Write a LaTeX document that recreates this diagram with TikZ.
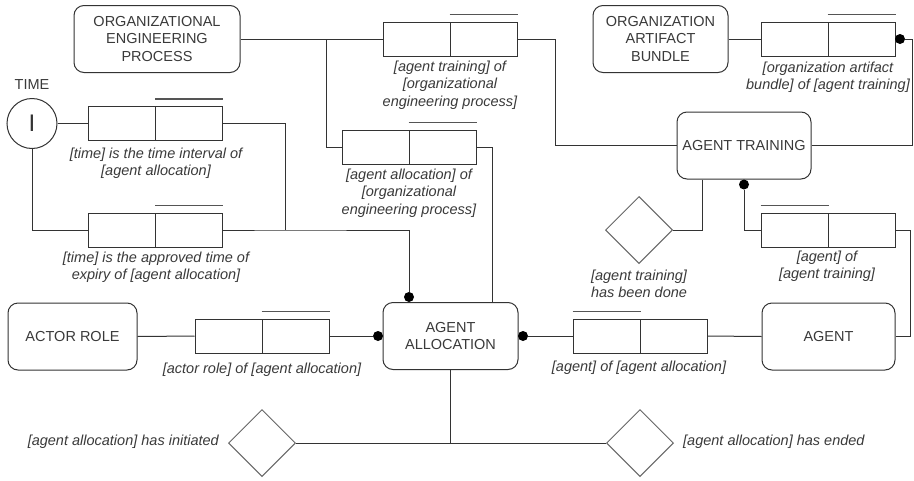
\documentclass[tikz,border=0pt]{standalone}
\usepackage{fontspec}
\setmainfont{Liberation Sans}
\usetikzlibrary{shapes.geometric}

\definecolor{linegray}{HTML}{333333}
\definecolor{textgray}{HTML}{3A3A3A}
\definecolor{bargray}{HTML}{555555}
\definecolor{diagray}{HTML}{666666}

\tikzstyle{entity}=[draw=linegray,line width=1pt,rounded corners=10pt,minimum height=67pt,align=center,text=textgray,font=\fontsize{14.5}{17.5}\selectfont,inner sep=0pt]
\tikzstyle{role}=[draw=linegray,line width=1pt,minimum width=67pt,minimum height=34pt,inner sep=0pt]
\tikzstyle{uniq}=[draw=bargray,line width=1.2pt]
\tikzstyle{reading}=[align=center,text=textgray,font=\fontsize{14.5}{17.5}\selectfont\itshape,inner sep=0pt]
\tikzstyle{event}=[diamond,draw=diagray,line width=1pt,minimum width=67pt,minimum height=67pt,inner sep=0pt]
\tikzstyle{dots}=[circle,fill=black,inner sep=0pt,minimum size=10pt]
\tikzstyle{conn}=[draw=linegray,line width=1pt]

\begin{document}
\begin{tikzpicture}[x=1pt,y=-1pt]

   \fill[white] (0,0) rectangle (914,480);
   \useasboundingbox (0,0) rectangle (914,480);

   \node[entity,minimum width=166pt] (oep) at (157,39) {ORGANIZATIONAL\\ENGINEERING\\PROCESS};
   \node[entity,minimum width=135pt] (oab) at (660.5,39) {ORGANIZATION\\ARTIFACT\\BUNDLE};
   \node[entity,minimum width=134pt] (at) at (744,145.5) {AGENT TRAINING};
   \node[entity,minimum width=135pt] (aa) at (450.5,336) {AGENT\\ALLOCATION};
   \node[entity,minimum width=133pt] (ag) at (828.5,336.5) {AGENT};
   \node[entity,minimum width=129pt] (ar) at (72.5,336.5) {ACTOR ROLE};

   \node[draw=linegray,line width=1pt,circle,minimum size=50pt,inner sep=0pt,text=linegray] (time) at (32,123.5) {\fontsize{24}{24}\selectfont I};
   \node[text=textgray,font=\fontsize{14.5}{17.5}\selectfont] (timelbl) at (32,85) {TIME};

   \node[role] (fTrOep1) at (416.5,39) {};
   \node[role] (fTrOep2) at (483.5,39) {};
   \node[role] (fAlOep1) at (375.5,147) {};
   \node[role] (fAlOep2) at (442.5,147) {};
   \node[role] (fOab1) at (794.5,39) {};
   \node[role] (fOab2) at (861.5,39) {};
   \node[role] (fInt1) at (122,123.5) {};
   \node[role] (fInt2) at (189,123.5) {};
   \node[role] (fExp1) at (122,230) {};
   \node[role] (fExp2) at (189,230) {};
   \node[role] (fRole1) at (228.5,336) {};
   \node[role] (fRole2) at (295.5,336) {};
   \node[role] (fAg1) at (606.5,336) {};
   \node[role] (fAg2) at (673.5,336) {};
   \node[role] (fAgTr1) at (794.5,230) {};
   \node[role] (fAgTr2) at (861.5,230) {};

   \draw[uniq] ([yshift=7pt]fTrOep2.north west) -- ([yshift=7pt]fTrOep2.north east);
   \draw[uniq] ([yshift=7pt]fAlOep2.north west) -- ([yshift=7pt]fAlOep2.north east);
   \draw[uniq] ([yshift=7pt]fOab2.north west) -- ([yshift=7pt]fOab2.north east);
   \draw[uniq] ([yshift=7pt]fInt2.north west) -- ([yshift=7pt]fInt2.north east);
   \draw[uniq] ([yshift=7pt]fExp2.north west) -- ([yshift=7pt]fExp2.north east);
   \draw[uniq] ([yshift=7pt]fRole2.north west) -- ([yshift=7pt]fRole2.north east);
   \draw[uniq] ([yshift=7pt]fAg1.north west) -- ([yshift=7pt]fAg1.north east);
   \draw[uniq] ([yshift=7pt]fAgTr1.north west) -- ([yshift=7pt]fAgTr1.north east);

   \node[reading] (lTrOep) at (450,85) {[agent training] of\\{}[organizational\\engineering process]};
   \node[reading] (lAlOep) at (409,193) {[agent allocation] of\\{}[organizational\\engineering process]};
   \node[reading] (lOab) at (828,77) {[organization artifact\\bundle] of [agent training]};
   \node[reading] (lInt) at (156,163) {[time] is the time interval of\\{}[agent allocation]};
   \node[reading] (lExp) at (156,267) {[time] is the approved time of\\expiry of [agent allocation]};
   \node[reading] (lRole) at (262,370) {[actor role] of [agent allocation]};
   \node[reading] (lAg) at (639,368) {[agent] of [agent allocation]};
   \node[reading] (lAgTr) at (827,266) {[agent] of\\{}[agent training]};
   \node[reading] (lDone) at (639,284) {[agent training]\\has been done};

   \node[event] (dDone) at (639,230) {};
   \node[event] (dInit) at (262,443) {};
   \node[event] (dEnd) at (640,443) {};
   \node[reading,anchor=east] (lInit) at (219,442) {[agent allocation] has initiated};
   \node[reading,anchor=west] (lEnd) at (683,442) {[agent allocation] has ended};

   \node[dots] (dAAt) at (409,297) {};
   \node[dots] (dAAl) at (378,336) {};
   \node[dots] (dAAr) at (523,336) {};
   \node[dots] (dATb) at (744,184.5) {};
   \node[dots] (dOab) at (900,39) {};

   \coordinate (jOep) at (326,39);
   \coordinate (jTime) at (285,230);

   \draw[conn] (oep.east) -- (fTrOep1.west);
   \draw[conn] (jOep) |- (fAlOep1.west);
   \draw[conn] (fTrOep2.east) -- ++(38,0) |- (at.west);
   \draw[conn] (fAlOep2.east) -| ([xshift=41.5pt]aa.north);
   \draw[conn] (time.east) -- (fInt1.west);
   \draw[conn] (time.south) |- (fExp1.west);
   \draw[conn] (fInt2.east) -| (jTime);
   \draw[conn] (fExp2.east) -- (jTime) -| (dAAt.north);
   \draw[conn] (ar.east) -- (fRole1.west);
   \draw[conn] (fRole2.east) -- (dAAl.west);
   \draw[conn] (dAAr.east) -- (fAg1.west);
   \draw[conn] (fAg2.east) -- (ag.west);
   \draw[conn] (ag.east) -- ++(15,0) |- (fAgTr2.east);
   \draw[conn] (fAgTr1.west) -| (dATb.south);
   \draw[conn] ([xshift=-42pt]at.south) |- (dDone.east);
   \draw[conn] (at.east) -- ++(101,0) |- (dOab.east);
   \draw[conn] (oab.east) -- (fOab1.west);
   \draw[conn] (dInit.east) -- (dEnd.west);
   \draw[conn] (aa.south) -- (aa.south |- dInit.east);
\end{tikzpicture}
\end{document}
